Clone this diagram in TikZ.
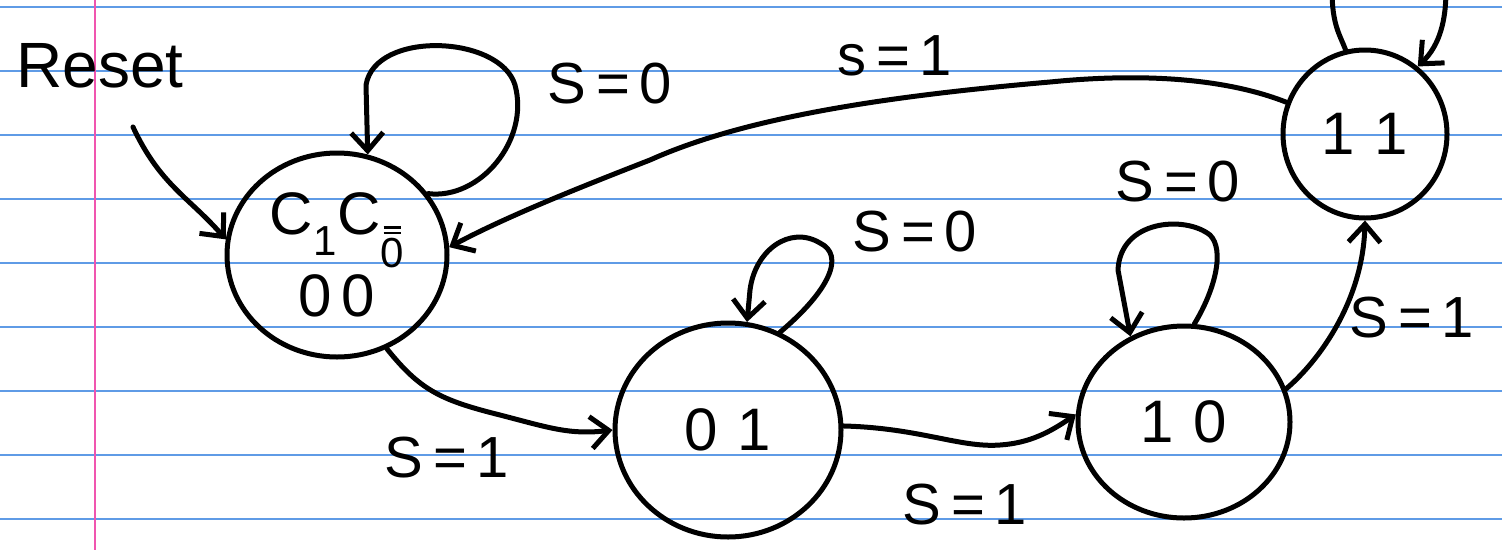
\documentclass[tikz,border=0pt]{standalone}
\usepackage{fontspec}
\setmainfont{Liberation Sans}
\usetikzlibrary{shapes.geometric,arrows.meta}
\definecolor{ruleblue}{RGB}{95,155,230}
\definecolor{marginpink}{RGB}{240,85,175}
\tikzset{
  pen/.style={line width=5pt, line cap=round, line join=round, black},
  state/.style={pen, draw, ellipse, inner sep=0pt, font=\fontsize{60}{66}\selectfont},
  lbl/.style={inner sep=0pt, font=\fontsize{58}{62}\selectfont},
  edge/.style={pen, -{Straight Barb[length=18pt,width=32pt,line width=5pt]}},
}
\newcommand{\dblbarzero}{\rlap{\raisebox{0.78em}{\kern0.08em\rule{0.42em}{2.2pt}}}\rlap{\raisebox{0.92em}{\kern0.08em\rule{0.42em}{2.2pt}}}0}
\begin{document}
\begin{tikzpicture}[x=1pt,y=-1pt]
\useasboundingbox (0,0) rectangle (1502,550);
\begin{scope}
\clip (0,0) rectangle (1502,550);
\fill[white] (0,0) rectangle (1502,550);
% ruled paper
\foreach \yy in {7,71,135,199,263,327,391,455,519}
  \draw[ruleblue, line width=2.2pt] (0,\yy) -- (1502,\yy);
\draw[marginpink, line width=2.8pt] (95,0) -- (95,550);

% states
\node[state, minimum width=220pt, minimum height=204pt, align=center] (n00) at (337,255)
  {C\textsubscript{1}C\textsubscript{\dblbarzero}\\[6pt]0\,0};
\node[state, minimum width=226pt, minimum height=214pt] (n01) at (728,430) {0\,\,1};
\node[state, minimum width=212pt, minimum height=192pt] (n10) at (1184,422) {1\,\,0};
\node[state, minimum width=164pt, minimum height=168pt] (n11) at (1365,134) {1\,\,1};

% reset
\node[inner sep=0pt, font=\fontsize{64}{70}\selectfont] (reset) at (100,66) {Reset};
\coordinate (rs) at (133,127);
\draw[edge] (rs) .. controls (160,185) and (190,198) .. (n00.172);

% self loop 00
\draw[edge] (n00.34) .. controls (480,200) and (530,140) .. (515,85)
  .. controls (500,35) and (375,30) .. (366,85) -- (n00.73);
\node[lbl] (l00) at (610,84) {S\,=\,0};

% 11 -> 00
\draw[edge] (n11.158) .. controls (1230,80) and (1150,72) .. (1050,82)
  .. controls (900,95) and (750,115) .. (650,160)
  .. controls (560,195) and (500,220) .. (n00.4);
\node[lbl] (l1100) at (895,56) {s\,=\,1};

% 00 -> 01
\draw[edge] (n00.-62) .. controls (420,390) and (440,400) .. (500,415)
  .. controls (550,428) and (570,435) .. (n01.180);
\node[lbl] (l0001) at (447,458) {S\,=\,1};

% self loop 01
\draw[edge] (n01.62) .. controls (830,290) and (845,255) .. (820,243)
  .. controls (790,225) and (755,250) .. (750,290) -- (n01.80);
\node[lbl] (l01) at (915,232) {S\,=\,0};

% 01 -> 10
\draw[edge] (n01.2) .. controls (920,428) and (960,448) .. (1000,445)
  .. controls (1030,443) and (1050,432) .. (n10.176);
\node[lbl] (l0110) at (965,505) {S\,=\,1};

% self loop 10
\draw[edge] (n10.84) .. controls (1215,290) and (1225,250) .. (1210,235)
  .. controls (1185,215) and (1120,220) .. (1118,270) -- (n10.122);
\node[lbl] (l10) at (1178,182) {S\,=\,0};

% 10 -> 11
\draw[edge] (n10.18) .. controls (1320,360) and (1363,300) .. (n11.270);
\node[lbl] (l1011) at (1412,318) {S\,=\,1};

% self loop 11 (runs off the top edge)
\draw[edge] (n11.103) .. controls (1340,35) and (1332,25) .. (1332,-10)
  .. controls (1332,-80) and (1446,-80) .. (1446,-10)
  .. controls (1446,20) and (1440,45) .. (n11.52);
\end{scope}
\end{tikzpicture}
\end{document}
